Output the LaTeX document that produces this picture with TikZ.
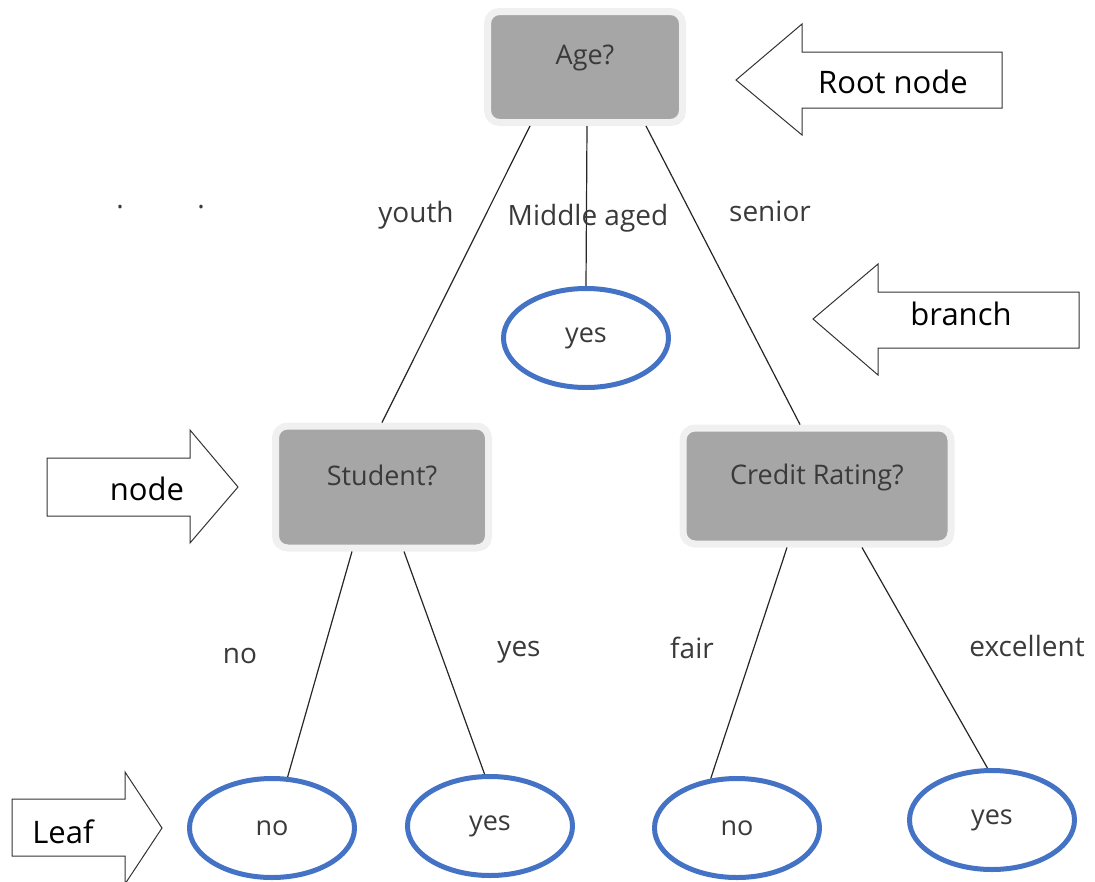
\documentclass[tikz,border=0pt]{standalone}
\usepackage{fontspec}
\setmainfont{Open Sans}
\usepackage{tikz}
\usetikzlibrary{shapes,shapes.geometric,shadows}
\definecolor{boxgray}{HTML}{A6A6A6}
\definecolor{framegray}{HTML}{F0F0F0}
\definecolor{leafblue}{HTML}{4472C4}
\definecolor{txtgray}{HTML}{3A3A3A}
\tikzstyle{ndbox} = [draw=framegray, line width=7pt, fill=boxgray, rounded corners=12pt, text=txtgray, font=\fontsize{27}{32}\selectfont, text depth=24pt, drop shadow={shadow xshift=2.5pt, shadow yshift=-2.5pt, opacity=.45}]
\tikzstyle{ndleaf} = [draw=leafblue, line width=5pt, shape=ellipse, minimum width=165pt, minimum height=99pt, inner sep=0pt, text=txtgray, font=\fontsize{27}{32}\selectfont]
\tikzstyle{lbl} = [text=txtgray, font=\fontsize{28}{33}\selectfont, inner sep=0pt]
\tikzstyle{br} = [style={line width=1.2pt, black!85}]
\tikzstyle{ptr} = [style={draw=black!80, line width=1pt, fill=white, line join=miter}]
\tikzstyle{ptrtxt} = [font=\fontsize{31}{36}\selectfont, inner sep=0pt]

\begin{document}
\begin{tikzpicture}[x=1pt, y=-1pt]
        \useasboundingbox (0,0) rectangle (1095,881);
        % decision nodes
        \node[ndbox, minimum width=195pt, minimum height=111pt] (age) at (585,67) {Age?};
        \node[ndbox, minimum width=213pt, minimum height=122pt] (student) at (382,487) {Student?};
        \node[ndbox, minimum width=268pt, minimum height=116pt] (credit) at (817,486) {Credit Rating?};
        % leaves
        \node[ndleaf] (ymid) at (586,338) {yes};
        \node[ndleaf] (sno) at (272,828) {no};
        \node[ndleaf] (syes) at (490,826) {yes};
        \node[ndleaf] (cno) at (737,828) {no};
        \node[ndleaf] (cyes) at (992,820) {yes};
        % branches
        \draw[br] ([xshift=-55pt]age.south) -- (student.north);
        \draw[br] ([xshift=2pt]age.south) -- (ymid.north);
        \draw[br] ([xshift=61pt]age.south) -- ([xshift=-17pt]credit.north);
        \draw[br] ([xshift=-30pt]student.south) -- (sno.73);
        \draw[br] ([xshift=22pt]student.south) -- (syes.96);
        \draw[br] ([xshift=-30pt]credit.south) -- (cno.118);
        \draw[br] ([xshift=45pt]credit.south) -- (cyes.95);
        \node[lbl] (youth) at (416,215) {youth};
        \node[lbl] (middle) at (588,218) {Middle aged};
        \node[lbl] (senior) at (770,211) {senior};
        \node[lbl] (lno) at (240,656) {no};
        \node[lbl] (lyes) at (519,652) {yes};
        \node[lbl] (lfair) at (692,648) {fair};
        \node[lbl] (lexc) at (1027,646) {excellent};
        \node[lbl] (dota) at (120,207) {.};
        \node[lbl] (dotb) at (201,207) {.};
        % pointers
        \draw[ptr] (736,80) -- (802,24) -- (802,52) -- (1002,52) -- (1002,108) -- (802,108) -- (802,135) -- cycle;
        \node[ptrtxt] (proot) at (893,82) {Root node};
        \draw[ptr] (813,319) -- (878,264) -- (878,292) -- (1079,292) -- (1079,348) -- (878,348) -- (878,375) -- cycle;
        \node[ptrtxt] (pbranch) at (961,314) {branch};
        \draw[ptr] (47,458) -- (190,458) -- (190,430) -- (238,487) -- (190,543) -- (190,516) -- (47,516) -- cycle;
        \node[ptrtxt] (pnode) at (147,489) {node};
        \draw[ptr] (12,799) -- (125,799) -- (125,772) -- (162,828) -- (125,884) -- (125,856) -- (12,856) -- cycle;
        \node[ptrtxt] (pleaf) at (63,832) {Leaf};
      \end{tikzpicture}
\end{document}
